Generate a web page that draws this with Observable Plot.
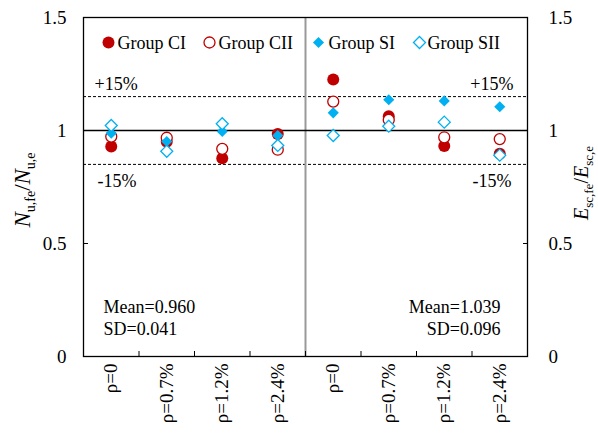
<!DOCTYPE html>
<html><head><meta charset="utf-8">
<script src="https://cdn.jsdelivr.net/npm/d3@7"></script>
<script src="https://cdn.jsdelivr.net/npm/@observablehq/plot@0.6"></script>
<style>body{margin:0;background:#fff} svg{display:block}</style>
</head><body><div id="chart"></div>
<script>
// Categories (left panel: N ratio, right panel: E ratio)
const categories = ["ρ=0","ρ=0.7%","ρ=1.2%","ρ=2.4%","ρ=0","ρ=0.7%","ρ=1.2%","ρ=2.4%"];
const groupCI  = [0.929, 0.950, 0.877, 0.985, 1.226, 1.063, 0.931, 0.897];
const groupCII = [0.973, 0.968, 0.919, 0.915, 1.128, 1.047, 0.970, 0.962];
const groupSI  = [0.988, 0.951, 0.996, 0.978, 1.078, 1.136, 1.131, 1.105];
const groupSII = [1.022, 0.908, 1.030, 0.934, 0.978, 1.019, 1.037, 0.891];
const yTicks = [0, 0.5, 1, 1.5];
const bandLines = [0.85, 1.15];
const legendNames = ["Group CI", "Group CII", "Group SI", "Group SII"];
const stats = [["Mean=0.960", "SD=0.041"], ["Mean=1.039", "SD=0.096"]];

const FONT = "'Liberation Serif', 'Times New Roman', serif";
const RED = "#C00000", BLUE = "#00B0F0";

const rows = vals => vals.map((v, i) => ({x: i + 0.5, v}));
const centers = categories.map((c, i) => i + 0.5);
const bounds = categories.slice(1).map((c, i) => i + 1);

const dotStyles = [
  {data: groupCI,  symbol: "circle",   fill: RED,  stroke: "none", r: 6},
  {data: groupCII, symbol: "circle",   fill: "white", stroke: RED, r: 5.5},
  {data: groupSI,  symbol: "diamond2", fill: BLUE, stroke: "none", r: 5},
  {data: groupSII, symbol: "diamond2", fill: "white", stroke: BLUE, r: 5.4}
];

const legendPos = [[25, 34], [126, 135], [235, 245], [336, 344]];

const marks = [
  Plot.ruleY(bandLines, {stroke: "black", strokeWidth: 1, strokeDasharray: "3,2"}),
  Plot.ruleX([4], {stroke: "#999", strokeWidth: 2}),
  Plot.ruleY([1], {stroke: "black", strokeWidth: 1.5}),
  Plot.frame({stroke: "black", strokeWidth: 1.3}),
  // axes
  Plot.axisY({anchor: "left", ticks: yTicks, tickSize: 0, tickPadding: 17, tickFormat: d => `${d}`, fontSize: 19, label: null}),
  Plot.axisY({anchor: "left", ticks: [0.5, 1], tickSize: -5, tickFormat: () => "", label: null}),
  Plot.axisY({anchor: "right", ticks: yTicks, tickSize: 0, tickPadding: 21, tickFormat: d => `${d}`, fontSize: 19, label: null}),
  Plot.axisY({anchor: "right", ticks: [0.5, 1], tickSize: -5, tickFormat: () => "", label: null}),
  Plot.axisX({anchor: "bottom", ticks: centers, tickSize: 0, tickPadding: 7, tickRotate: -90, tickFormat: d => categories[Math.floor(d)], fontSize: 19, label: null}),
  Plot.axisX({anchor: "bottom", ticks: bounds, tickSize: -5, tickFormat: () => "", label: null}),
  // +/-15% labels
  Plot.text(["+15%"], {x: 0, y: 1.15, dx: 11, dy: -12, textAnchor: "start", fontSize: 18}),
  Plot.text(["-15%"], {x: 0, y: 0.85, dx: 14, dy: 17, textAnchor: "start", fontSize: 18}),
  Plot.text(["+15%"], {x: 8, y: 1.15, dx: -14, dy: -12, textAnchor: "end", fontSize: 18}),
  Plot.text(["-15%"], {x: 8, y: 0.85, dx: -16, dy: 17, textAnchor: "end", fontSize: 18}),
  // stats
  Plot.text([stats[0][0]], {frameAnchor: "bottom-left", dx: 20, dy: -49, textAnchor: "start", lineAnchor: "middle", fontSize: 18}),
  Plot.text([stats[0][1]], {frameAnchor: "bottom-left", dx: 20, dy: -27, textAnchor: "start", lineAnchor: "middle", fontSize: 18}),
  Plot.text([stats[1][0]], {frameAnchor: "bottom-right", dx: -27, dy: -49, textAnchor: "end", lineAnchor: "middle", fontSize: 18}),
  Plot.text([stats[1][1]], {frameAnchor: "bottom-right", dx: -27, dy: -27, textAnchor: "end", lineAnchor: "middle", fontSize: 18}),
];

dotStyles.forEach((s, k) => {
  marks.push(Plot.dot(rows(s.data), {x: "x", y: "v", symbol: () => s.symbol, r: s.r, fill: s.fill, stroke: s.stroke, strokeWidth: 1.3}));
  marks.push(Plot.dot([legendNames[k]], {frameAnchor: "top-left", dx: legendPos[k][0], dy: 25, symbol: () => s.symbol, r: s.r, fill: s.fill, stroke: s.stroke, strokeWidth: 1.3}));
  marks.push(Plot.text([legendNames[k]], {frameAnchor: "top-left", dx: legendPos[k][1], dy: 26, textAnchor: "start", lineAnchor: "middle", fontSize: 18}));
});

const chart = Plot.plot({
  width: 598, height: 434,
  marginLeft: 83, marginRight: 71, marginTop: 17, marginBottom: 78,
  x: {domain: [0, 8]},
  y: {domain: [0, 1.5]},
  symbol: {type: "identity"},
  style: {fontFamily: FONT, fontSize: "18px", color: "black", background: "white"},
  marks
});

const svg = d3.select(chart);
function title(x, y, size, sub, parts) {
  const t = svg.append("text")
    .attr("transform", `translate(${x},${y}) rotate(-90)`)
    .attr("text-anchor", "middle")
    .attr("font-family", FONT)
    .attr("font-size", size)
    .attr("fill", "black");
  parts.forEach(([txt, kind]) => {
    const ts = t.append("tspan").text(txt);
    if (kind === "i") ts.attr("font-style", "italic");
    if (kind === "sub") ts.attr("font-size", sub).attr("dy", 5);
    if (kind === "back") ts.attr("dy", -5);
  });
}
title(30, 190, 23, 14, [["N", "i"], ["u,fe", "sub"], ["/", "back"], ["N", "i"], ["u,e", "sub"]]);
title(588, 183, 20, 13, [["E", "i"], ["sc,fe", "sub"], ["/", "back"], ["E", "i"], ["sc,e", "sub"]]);

document.getElementById("chart").append(chart);
</script>
</body></html>
